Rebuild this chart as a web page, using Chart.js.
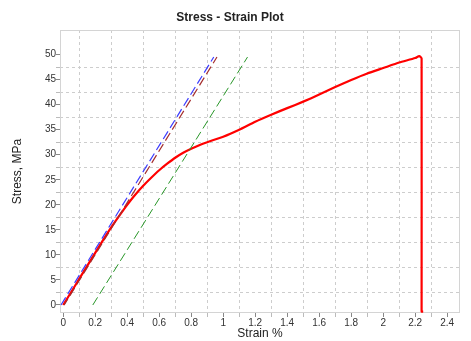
<!DOCTYPE html>
<html>
<head>
<meta charset="utf-8">
<script src="https://cdn.jsdelivr.net/npm/chart.js@4"></script>
<style>
  html, body { margin: 0; padding: 0; background: #fff; }
  #wrap { width: 471px; height: 341px; }
</style>
</head>
<body>
<div id="wrap"><canvas id="chart" width="471" height="341"></canvas></div>
<script>
// ensayo de tracción - curva tensión / deformación

// curva medida (deformación %, tensión MPa)
const strain = [0, 0.05, 0.1, 0.15, 0.2, 0.25, 0.3, 0.35, 0.4, 0.45, 0.5, 0.55, 0.6, 0.65, 0.7, 0.75, 0.8, 0.85, 0.9, 1.0, 1.1, 1.2, 1.3, 1.4, 1.5, 1.6, 1.7, 1.8, 1.9, 2.0, 2.1, 2.2, 2.225, 2.24, 2.24, 2.25];
const stress = [0, 2.6, 5.2, 7.8, 10.4, 13.0, 15.5, 17.8, 20.0, 22.0, 23.8, 25.4, 26.9, 28.2, 29.4, 30.4, 31.2, 31.9, 32.5, 33.6, 35.0, 36.6, 38.0, 39.3, 40.6, 42.0, 43.5, 44.9, 46.2, 47.3, 48.4, 49.3, 49.7, 49.2, -1.3, -1.3];

// rectas del módulo (dos tramos paralelos) y recta desplazada 0.2%
const modA = [[-0.014, 0], [0.941, 49.5]];
const modB = [[0.006, 0], [0.961, 49.5]];
const offset = [[0.185, 0], [1.152, 49.5]];

// ticks con etiqueta y líneas de grilla (entre etiquetas)
const xTickValues = [0, 0.2, 0.4, 0.6, 0.8, 1, 1.2, 1.4, 1.6, 1.8, 2, 2.2, 2.4];
const xGridValues = [0.1, 0.3, 0.5, 0.7, 0.9, 1.1, 1.3, 1.5, 1.7, 1.9, 2.1, 2.3];
const yTickValues = [0, 5, 10, 15, 20, 25, 30, 35, 40, 45, 50];
const yGridValues = [2.5, 7.5, 12.5, 17.5, 22.5, 27.5, 32.5, 37.5, 42.5, 47.5];

const toPts = (xs, ys) => xs.map((x, i) => ({ x: x, y: ys[i] }));
const pairPts = arr => arr.map(p => ({ x: p[0], y: p[1] }));

const GRID = '#cdcdcd';
const TXT = '#333';

function setTicks(labels, grid) {
    return scale => {
        const all = labels.concat(grid).sort((a, b) => a - b);
        scale.ticks = all.map(v => ({ value: v }));
    };
}
const isLabel = (list, v) => list.some(t => Math.abs(t - v) < 1e-6);

// borde del área de gráfico
const frame = {
    id: 'frame',
    beforeDatasetsDraw(chart) {
        const a = chart.chartArea, c = chart.ctx;
        c.save();
        c.strokeStyle = '#d4d4d4';
        c.lineWidth = 1;
        c.strokeRect(a.left + 0.5, a.top + 0.5, a.right - a.left - 1, a.bottom - a.top - 1);
        c.restore();
    }
};

new Chart(document.getElementById('chart'), {
    type: 'scatter',
    data: {
        datasets: [
            { data: pairPts(modA), showLine: true, borderColor: 'rgb(60,60,255)', borderWidth: 1.2, borderDash: [9, 4], pointRadius: 0 },
            { data: pairPts(modB), showLine: true, borderColor: 'rgb(165,45,45)', borderWidth: 1.2, borderDash: [9, 4], borderDashOffset: 2, pointRadius: 0 },
            { data: pairPts(offset), showLine: true, borderColor: 'rgb(40,150,40)', borderWidth: 1, borderDash: [9, 4], pointRadius: 0 },
            { data: toPts(strain, stress), showLine: true, borderColor: 'rgb(255,0,0)', borderWidth: 2.2, pointRadius: 0, tension: 0.2 }
        ]
    },
    options: {
        responsive: false,
        animation: false,
        layout: { padding: { left: 0, right: 11, top: 0, bottom: 0 } },
        plugins: {
            legend: { display: false },
            tooltip: { enabled: false },
            title: {
                display: true,
                text: 'Stress - Strain Plot',
                color: '#222',
                font: { family: 'Liberation Sans', size: 12, weight: 'bold' },
                padding: { top: 10, bottom: 5.6 }
            }
        },
        scales: {
            x: {
                type: 'linear',
                min: -0.02, max: 2.48,
                afterBuildTicks: setTicks(xTickValues, xGridValues),
                afterFit: s => { s.height = 28; },
                border: { display: false, dash: [3, 3] },
                grid: {
                    color: ctx => ctx.tick && !isLabel(xTickValues, ctx.tick.value) ? GRID : 'rgba(0,0,0,0)',
                    tickColor: ctx => ctx.tick && isLabel(xTickValues, ctx.tick.value) ? '#888' : '#bbb',
                    tickBorderDash: [],
                    tickLength: 4,
                    lineWidth: 1
                },
                ticks: {
                    autoSkip: false,
                    maxRotation: 0,
                    padding: 0,
                    color: TXT,
                    font: { family: 'Liberation Sans', size: 10 },
                    callback: v => isLabel(xTickValues, v) ? String(+v.toFixed(1)) : ''
                },
                title: {
                    display: true,
                    text: 'Strain %',
                    color: '#222',
                    font: { family: 'Liberation Sans', size: 12 },
                    padding: { top: 0, bottom: 0 }
                }
            },
            y: {
                type: 'linear',
                min: -1.6, max: 54.9,
                afterBuildTicks: setTicks(yTickValues, yGridValues),
                afterFit: s => { s.width = 60; },
                border: { display: false, dash: [3, 3] },
                grid: {
                    color: ctx => ctx.tick && !isLabel(yTickValues, ctx.tick.value) ? GRID : 'rgba(0,0,0,0)',
                    tickColor: ctx => ctx.tick && isLabel(yTickValues, ctx.tick.value) ? '#888' : '#bbb',
                    tickBorderDash: [],
                    tickLength: 4,
                    lineWidth: 1
                },
                ticks: {
                    autoSkip: false,
                    padding: 0,
                    color: TXT,
                    font: { family: 'Liberation Sans', size: 10 },
                    callback: v => isLabel(yTickValues, v) ? String(v) : ''
                },
                title: {
                    display: true,
                    text: 'Stress, MPa',
                    color: '#222',
                    font: { family: 'Liberation Sans', size: 12 },
                    padding: { top: 10, bottom: 0 }
                }
            }
        }
    },
    plugins: [frame]
});
</script>
</body>
</html>
